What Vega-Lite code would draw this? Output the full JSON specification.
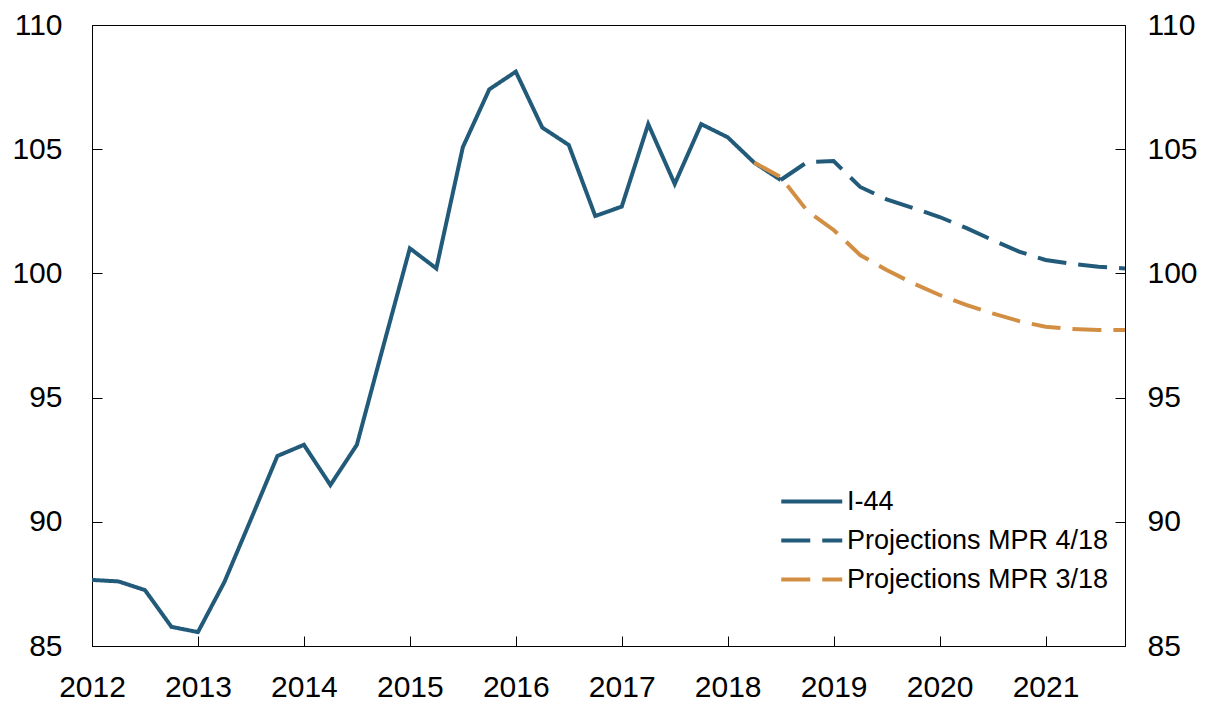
{
  "$schema": "https://vega.github.io/schema/vega-lite/v6.json",
  "width": 1033,
  "height": 621,
  "autosize": {"type": "none"},
  "padding": {"left": 92, "top": 25, "right": 90, "bottom": 57},
  "background": "white",
  "config": {
    "view": {"stroke": "black", "strokeWidth": 1},
    "font": "Liberation Sans",
    "axis": {
      "grid": false,
      "domainColor": "black",
      "domainWidth": 1,
      "tickColor": "black",
      "tickWidth": 1,
      "labelColor": "black",
      "labelFont": "Liberation Sans",
      "labelFontSize": 30,
      "title": null
    }
  },
  "data": {
    "values": [
      {"t": 2012.0, "v": 87.66, "s": "I-44"},
      {"t": 2012.25, "v": 87.6, "s": "I-44"},
      {"t": 2012.5, "v": 87.25, "s": "I-44"},
      {"t": 2012.75, "v": 85.77, "s": "I-44"},
      {"t": 2013.0, "v": 85.56, "s": "I-44"},
      {"t": 2013.25, "v": 87.58, "s": "I-44"},
      {"t": 2013.5, "v": 90.1, "s": "I-44"},
      {"t": 2013.75, "v": 92.65, "s": "I-44"},
      {"t": 2014.0, "v": 93.1, "s": "I-44"},
      {"t": 2014.25, "v": 91.48, "s": "I-44"},
      {"t": 2014.5, "v": 93.1, "s": "I-44"},
      {"t": 2014.75, "v": 97.08, "s": "I-44"},
      {"t": 2015.0, "v": 101.01, "s": "I-44"},
      {"t": 2015.25, "v": 100.2, "s": "I-44"},
      {"t": 2015.5, "v": 105.08, "s": "I-44"},
      {"t": 2015.75, "v": 107.41, "s": "I-44"},
      {"t": 2016.0, "v": 108.12, "s": "I-44"},
      {"t": 2016.25, "v": 105.87, "s": "I-44"},
      {"t": 2016.5, "v": 105.17, "s": "I-44"},
      {"t": 2016.75, "v": 102.31, "s": "I-44"},
      {"t": 2017.0, "v": 102.69, "s": "I-44"},
      {"t": 2017.25, "v": 106.01, "s": "I-44"},
      {"t": 2017.5, "v": 103.6, "s": "I-44"},
      {"t": 2017.75, "v": 106.01, "s": "I-44"},
      {"t": 2018.0, "v": 105.48, "s": "I-44"},
      {"t": 2018.25, "v": 104.46, "s": "I-44"},
      {"t": 2018.5, "v": 103.76, "s": "I-44"},
      {"t": 2018.5, "v": 103.76, "s": "Projections MPR 4/18"},
      {"t": 2018.75, "v": 104.48, "s": "Projections MPR 4/18"},
      {"t": 2019.0, "v": 104.52, "s": "Projections MPR 4/18"},
      {"t": 2019.25, "v": 103.48, "s": "Projections MPR 4/18"},
      {"t": 2019.5, "v": 102.98, "s": "Projections MPR 4/18"},
      {"t": 2019.75, "v": 102.63, "s": "Projections MPR 4/18"},
      {"t": 2020.0, "v": 102.27, "s": "Projections MPR 4/18"},
      {"t": 2020.25, "v": 101.83, "s": "Projections MPR 4/18"},
      {"t": 2020.5, "v": 101.34, "s": "Projections MPR 4/18"},
      {"t": 2020.75, "v": 100.88, "s": "Projections MPR 4/18"},
      {"t": 2021.0, "v": 100.54, "s": "Projections MPR 4/18"},
      {"t": 2021.25, "v": 100.38, "s": "Projections MPR 4/18"},
      {"t": 2021.5, "v": 100.27, "s": "Projections MPR 4/18"},
      {"t": 2021.75, "v": 100.2, "s": "Projections MPR 4/18"},
      {"t": 2018.25, "v": 104.46, "s": "Projections MPR 3/18"},
      {"t": 2018.5, "v": 103.88, "s": "Projections MPR 3/18"},
      {"t": 2018.75, "v": 102.52, "s": "Projections MPR 3/18"},
      {"t": 2019.0, "v": 101.75, "s": "Projections MPR 3/18"},
      {"t": 2019.25, "v": 100.74, "s": "Projections MPR 3/18"},
      {"t": 2019.5, "v": 100.14, "s": "Projections MPR 3/18"},
      {"t": 2019.75, "v": 99.6, "s": "Projections MPR 3/18"},
      {"t": 2020.0, "v": 99.13, "s": "Projections MPR 3/18"},
      {"t": 2020.25, "v": 98.73, "s": "Projections MPR 3/18"},
      {"t": 2020.5, "v": 98.39, "s": "Projections MPR 3/18"},
      {"t": 2020.75, "v": 98.08, "s": "Projections MPR 3/18"},
      {"t": 2021.0, "v": 97.85, "s": "Projections MPR 3/18"},
      {"t": 2021.25, "v": 97.76, "s": "Projections MPR 3/18"},
      {"t": 2021.5, "v": 97.72, "s": "Projections MPR 3/18"},
      {"t": 2021.75, "v": 97.72, "s": "Projections MPR 3/18"}
    ]
  },
  "layer": [
    {
      "mark": {"type": "line", "strokeWidth": 4, "strokeCap": "butt", "strokeJoin": "miter", "clip": true},
      "encoding": {
        "x": {
          "field": "t",
          "type": "quantitative",
          "scale": {"domain": [2012, 2021.75], "nice": false, "zero": false},
          "axis": {
            "values": [2012, 2013, 2014, 2015, 2016, 2017, 2018, 2019, 2020, 2021],
            "format": "d",
            "tickSize": -10,
            "labelPadding": 36,
            "labelFlush": false,
            "labelOverlap": false
          }
        },
        "y": {
          "field": "v",
          "type": "quantitative",
          "scale": {"domain": [85, 110], "nice": false, "zero": false},
          "axis": {
            "orient": "left",
            "values": [85, 90, 95, 100, 105, 110],
            "tickSize": -10,
            "labelPadding": 40
          }
        },
        "color": {
          "field": "s",
          "type": "nominal",
          "scale": {
            "domain": ["I-44", "Projections MPR 4/18", "Projections MPR 3/18"],
            "range": ["#225a7a", "#225a7a", "#d28f43"]
          },
          "legend": {
            "title": null,
            "orient": "none",
            "legendX": 687,
            "legendY": 459,
            "symbolType": "M-1,0H3",
            "symbolSize": 930,
            "symbolStrokeWidth": 4,
            "labelFont": "Liberation Sans",
            "labelFontSize": 27,
            "labelColor": "black",
            "labelOffset": 33,
            "labelLimit": 0,
            "rowPadding": 8
          }
        },
        "strokeDash": {
          "field": "s",
          "type": "nominal",
          "scale": {
            "domain": ["I-44", "Projections MPR 4/18", "Projections MPR 3/18"],
            "range": [[1, 0], [29, 12], [29, 12]]
          },
          "legend": {
            "title": null,
            "orient": "none",
            "legendX": 687,
            "legendY": 459,
            "symbolType": "M-1,0H3",
            "symbolSize": 930,
            "symbolStrokeWidth": 4,
            "labelFont": "Liberation Sans",
            "labelFontSize": 27,
            "labelColor": "black",
            "labelOffset": 33,
            "labelLimit": 0,
            "rowPadding": 8
          }
        }
      }
    },
    {
      "mark": {"type": "line", "opacity": 0},
      "encoding": {
        "x": {"field": "t", "type": "quantitative"},
        "y": {
          "field": "v",
          "type": "quantitative",
          "axis": {
            "orient": "right",
            "values": [85, 90, 95, 100, 105, 110],
            "tickSize": -10,
            "labelPadding": 32
          }
        }
      }
    }
  ],
  "resolve": {"axis": {"y": "independent"}}
}
